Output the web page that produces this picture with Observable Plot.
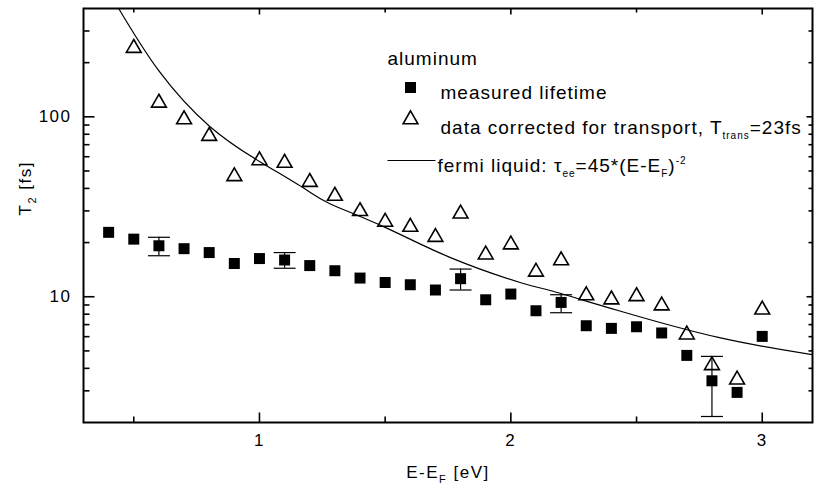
<!DOCTYPE html>
<html><head><meta charset="utf-8">
<script src="https://cdn.jsdelivr.net/npm/d3@7"></script>
<script src="https://cdn.jsdelivr.net/npm/@observablehq/plot@0.6"></script>
<style>
html,body{margin:0;padding:0;background:#fff;}
#chart svg text{font-family:"Liberation Sans",Arial,sans-serif;}
</style></head><body><div id="chart"></div>
<script>
// ---- data ----
const energyMeasured = [0.4,0.5,0.6,0.7,0.8,0.9,1.0,1.1,1.2,1.3,1.4,1.5,1.6,1.7,1.8,1.9,2.0,2.1,2.2,2.3,2.4,2.5,2.6,2.7,2.8,2.9,3.0];
const measuredLifetime = [22.8,20.9,19.2,18.5,17.6,15.3,16.3,16.0,14.9,13.95,12.7,12.0,11.66,10.9,12.6,9.62,10.35,8.36,9.3,6.9,6.67,6.81,6.29,4.72,3.41,2.94,6.02];
const energyCorrected = [0.5,0.6,0.7,0.8,0.9,1.0,1.1,1.2,1.3,1.4,1.5,1.6,1.7,1.8,1.9,2.0,2.1,2.2,2.3,2.4,2.5,2.6,2.7,2.8,2.9,3.0];
const correctedLifetime = [235,116.6,94.2,76.2,45.5,55.8,54.0,42.3,35.4,29.1,25.4,23.8,20.9,28.2,16.7,19.0,13.4,15.5,9.9,9.4,9.8,8.7,6.0,4.05,3.37,8.25];
const errorEnergy = [0.6,1.1,1.8,2.2,2.8];
const errorLow = [16.9,14.4,10.9,8.15,2.16];
const errorHigh = [21.4,17.6,14.25,10.26,4.66];
const fermiEnergy = [0.44,0.6,0.8,1.0,1.18,1.28,1.5,1.76,2.04,2.16,2.43,2.83,3.2];
const fermiLifetime = [400,180,89,56.5,39.8,32.9,24.3,16.5,11.96,10.8,8.36,5.92,4.76];
const xMajorTicks = [1,2,3];
const xMinorTicks = [0.5,1.5,2.5];
const yMajorTicks = [10,100];
const yMinorTicks = [3,4,5,6,7,8,9,20,30,40,50,60,70,80,90,200,300];
const xTitle = "E-EF [eV]";
const yTitle = "T2 [fs]";
const legendTitle = "aluminum";
const legendMeasured = "measured lifetime";
const legendCorrected = "data corrected for transport, Ttrans=23fs";
const legendFermi = "fermi liquid: τee=45*(E-EF)-2";

// ---- tables ----
const measured = energyMeasured.map((e,i)=>({e, t: measuredLifetime[i]}));
const corrected = energyCorrected.map((e,i)=>({e, t: correctedLifetime[i]}));
const errs = errorEnergy.map((e,i)=>({e, lo: errorLow[i], hi: errorHigh[i]}));
const fermi = fermiEnergy.map((e,i)=>({e, t: fermiLifetime[i]}));

// ---- custom line symbols (pixel-sized ticks & caps) ----
const seg = (x1,y1,x2,y2) => ({draw(ctx){ ctx.moveTo(x1,y1); ctx.lineTo(x2,y2); }});
const tickStyle = {stroke:"black", strokeWidth:1.6, fill:"none"};

const chart = Plot.plot({
  width: 816, height: 492,
  marginLeft: 83, marginRight: 4, marginTop: 8, marginBottom: 70,
  style: {background:"white", color:"black", fontFamily:"Liberation Sans, Arial, sans-serif"},
  x: {domain:[0.3,3.2], axis:null},
  y: {type:"log", domain:[2,400], axis:null},
  marks: [
    // ticks: bottom, top, left, right (inward)
    Plot.dot(xMajorTicks, {x:d=>d, frameAnchor:"bottom", symbol: seg(0,0,0,-10), ...tickStyle}),
    Plot.dot(xMinorTicks, {x:d=>d, frameAnchor:"bottom", symbol: seg(0,0,0,-6), ...tickStyle}),
    Plot.dot(xMajorTicks, {x:d=>d, frameAnchor:"top", symbol: seg(0,0,0,6), ...tickStyle}),
    Plot.dot(xMinorTicks, {x:d=>d, frameAnchor:"top", symbol: seg(0,0,0,4), ...tickStyle}),
    Plot.dot(yMajorTicks, {y:d=>d, frameAnchor:"left", symbol: seg(0,0,11,0), ...tickStyle}),
    Plot.dot(yMinorTicks, {y:d=>d, frameAnchor:"left", symbol: seg(0,0,6,0), ...tickStyle}),
    Plot.dot(yMajorTicks, {y:d=>d, frameAnchor:"right", symbol: seg(0,0,-6,0), ...tickStyle}),
    Plot.dot(yMinorTicks, {y:d=>d, frameAnchor:"right", symbol: seg(0,0,-4,0), ...tickStyle}),
    Plot.frame({stroke:"black", strokeWidth:2}),
    // tick labels
    Plot.text(xMajorTicks, {x:d=>d, frameAnchor:"bottom", dy:23, text:d=>String(d), fontSize:17, className:"lbl"}),
    Plot.text(yMajorTicks, {y:d=>d, frameAnchor:"left", dx:-12, textAnchor:"end", text:d=>String(d), fontSize:17, className:"lbl"}),
    // axis titles
    Plot.text([xTitle], {frameAnchor:"bottom", dy:55, text:d=>d, fontSize:17, className:"lbl"}),
    Plot.text([yTitle], {frameAnchor:"left", dx:-58, rotate:-90, text:d=>d, fontSize:17, className:"lbl"}),
    // fermi-liquid curve
    Plot.line(fermi, {x:"e", y:"t", curve:"natural", stroke:"black", strokeWidth:1.2, clip:true}),
    // error bars
    Plot.ruleX(errs, {x:"e", y1:"lo", y2:"hi", stroke:"black", strokeWidth:1.2}),
    Plot.dot(errs, {x:"e", y:"lo", symbol: seg(-11,0,11,0), stroke:"black", strokeWidth:1.2, fill:"none"}),
    Plot.dot(errs, {x:"e", y:"hi", symbol: seg(-11,0,11,0), stroke:"black", strokeWidth:1.2, fill:"none"}),
    // data
    Plot.dot(measured, {x:"e", y:"t", symbol:"square", r:6.2, fill:"black", stroke:"none"}),
    Plot.dot(corrected, {x:"e", y:"t", symbol:"triangle", r:5.5, dy:-2, fill:"none", stroke:"black", strokeWidth:1.6}),
    // legend
    Plot.text([legendTitle], {frameAnchor:"top-left", dx:304, dy:43, textAnchor:"start", text:d=>d, fontSize:19, className:"leg"}),
    Plot.dot([0], {frameAnchor:"top-left", dx:327, dy:79, symbol:"square", r:6.2, fill:"black", stroke:"none"}),
    Plot.text([legendMeasured], {frameAnchor:"top-left", dx:357, dy:77, textAnchor:"start", text:d=>d, fontSize:19, className:"leg"}),
    Plot.dot([0], {frameAnchor:"top-left", dx:327, dy:111, symbol:"triangle", r:5.5, fill:"none", stroke:"black", strokeWidth:1.6}),
    Plot.text([legendCorrected], {frameAnchor:"top-left", dx:357, dy:112, textAnchor:"start", text:d=>d, fontSize:19, className:"leg"}),
    Plot.dot([0], {frameAnchor:"top-left", dx:328, dy:152, symbol: seg(-24,0,24,0), stroke:"black", strokeWidth:1.2, fill:"none"}),
    Plot.text([legendFermi], {frameAnchor:"top-left", dx:354, dy:150, textAnchor:"start", text:d=>d, fontSize:19, className:"leg"})
  ]
});
document.getElementById("chart").appendChild(chart);

// ---- rich text (sub/superscripts) ----
const sub = (s, fs) => `<tspan font-size="${fs}" dy="5">${s}</tspan>`;
const rich = {
  [xTitle]: `E-E${sub("F",11)}<tspan dy="-5"> [eV]</tspan>`,
  [yTitle]: `T${sub("2",11)}<tspan dy="-5"> [fs]</tspan>`,
  [legendCorrected]: `data corrected for transport, T${sub("trans",10)}<tspan dy="-5">=23fs</tspan>`,
  [legendFermi]: `fermi liquid: τ${sub("ee",10)}<tspan dy="-5">=45*(E-E</tspan>${sub("F",10)}<tspan dy="-5">)</tspan><tspan font-size="10" dy="-8">-2</tspan>`
};
d3.select(chart).selectAll("text").each(function(){
  const t = this.textContent;
  if (rich[t]) this.innerHTML = rich[t];
});
d3.select(chart).selectAll("g.leg text").style("letter-spacing","1px");
d3.select(chart).selectAll("g.lbl text").style("letter-spacing","1.5px");
</script></body></html>
